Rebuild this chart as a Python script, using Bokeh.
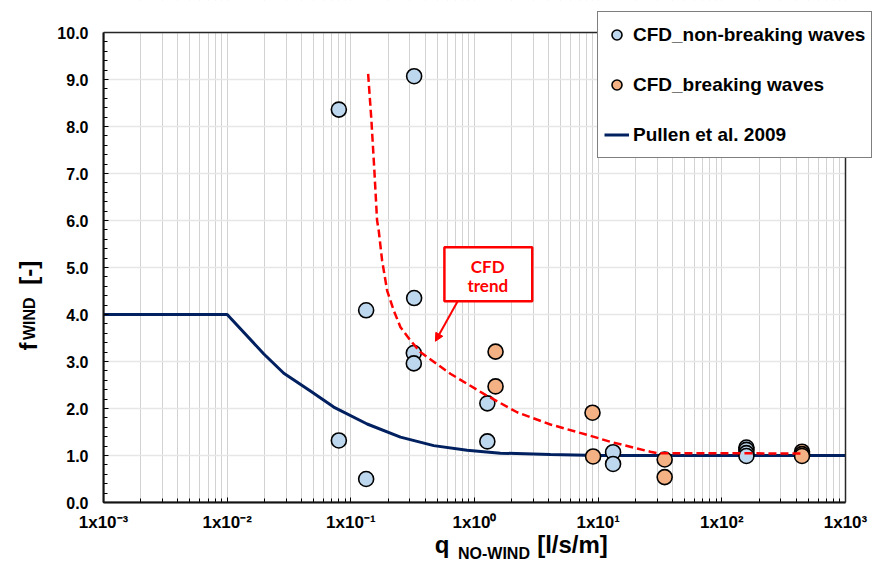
import math

from bokeh.plotting import figure
from bokeh.models import (Range1d, FixedTicker, PrintfTickFormatter, Label, Arrow,
                          NormalHead, BoxAnnotation, Legend, LegendItem, LogAxis, LinearAxis)
from bokeh.embed import file_html
from bokeh.resources import INLINE

# --- data -------------------------------------------------------------
# CFD results, non-breaking waves: overtopping without wind q [l/s/m] and wind factor f [-]
nb_q = [0.080, 0.325, 0.325, 0.133, 0.323, 0.323, 1.27, 0.080, 1.27, 0.133,
        13.2, 13.2, 158, 158, 158, 158]
nb_f = [8.36, 9.07, 4.35, 4.09, 3.18, 2.96, 2.11, 1.32, 1.30, 0.50,
        1.07, 0.82, 1.17, 1.12, 1.05, 0.99]

# CFD results, breaking waves
br_q = [1.48, 1.48, 9.0, 9.1, 34.5, 34.5, 445, 445, 445]
br_f = [3.21, 2.47, 1.91, 0.98, 0.915, 0.54, 1.08, 1.03, 0.99]

# Pullen et al. (2009) wind adjustment factor
pullen_q = [0.001, 0.01, 0.0198, 0.0287, 0.0471, 0.0727, 0.1355, 0.252, 0.468,
            0.871, 1.62, 4.11, 10, 1000]
pullen_f = [4.0, 4.0, 3.16, 2.75, 2.37, 2.03, 1.67, 1.39, 1.21,
            1.11, 1.05, 1.02, 1.0, 1.0]

# CFD trend line
trend_q = [0.138, 0.1467, 0.155, 0.163, 0.168, 0.179, 0.1966, 0.222, 0.252, 0.303,
           0.365, 0.638, 1.19, 2.21, 4.11, 8.65, 12.6, 26.4, 30, 100, 445]
trend_f = [9.12, 8.13, 7.06, 6.0, 5.79, 5.15, 4.51, 4.09, 3.73, 3.45,
           3.20, 2.74, 2.31, 1.92, 1.66, 1.42, 1.29, 1.08, 1.05, 1.05, 1.04]

# axes
Q_MIN, Q_MAX = 1e-3, 1e3
F_MIN, F_MAX = 0.0, 10.0
x_ticks = [1e-3, 1e-2, 1e-1, 1e0, 1e1, 1e2, 1e3]
x_tick_labels = ["1x10⁻³", "1x10⁻²", "1x10⁻¹", "1x10⁰", "1x10¹", "1x10²", "1x10³"]
y_ticks = [0, 1, 2, 3, 4, 5, 6, 7, 8, 9, 10]

# axis titles, split into main text and subscript (anchor = data position along the axis)
x_title_main = {0.546: "q", 6.20: "[l/s/m]"}
x_title_sub = {1.437: "NO-WIND"}
y_title_main = {3.32: "f", 4.89: "[-]"}
y_title_sub = {3.91: "WIND"}

FONT = "Liberation Sans"
BLUE = "#BDD7EE"
ORANGE = "#F4B183"
NAVY = "#002060"
RED = "#FF0000"

# geometry of the plotting box on the 873 x 574 canvas
W, H = 873, 574
BOX_L, BOX_R, BOX_T, BOX_B = 103, 845, 32, 502
# the frame runs to the right and top canvas edges so the legend can overhang the box
x_end = 10 ** (math.log10(Q_MAX) + (W - BOX_R) * 6 / (BOX_R - BOX_L))
y_end = F_MAX * BOX_B / (BOX_B - BOX_T)

p = figure(x_axis_type="log", x_range=Range1d(Q_MIN, x_end), y_range=Range1d(F_MIN, y_end),
           width=W, height=H, output_backend="svg", toolbar_location=None,
           min_border_left=BOX_L, min_border_right=0, min_border_top=0,
           min_border_bottom=H - BOX_B)
p.background_fill_color = "white"
p.border_fill_color = "white"
p.outline_line_color = None

# ticks
x_minor = [m * d for d in x_ticks[:-1] for m in range(2, 10)]
y_minor = [round(i * 0.2, 1) for i in range(51) if i % 5 != 0]
xt = FixedTicker(ticks=x_ticks, minor_ticks=x_minor)
yt = FixedTicker(ticks=y_ticks, minor_ticks=y_minor)
p.xaxis.ticker = xt
p.yaxis.ticker = yt
p.xgrid.ticker = xt
p.ygrid.ticker = FixedTicker(ticks=y_ticks)
p.xaxis.major_label_overrides = dict(zip(x_ticks, x_tick_labels))
p.yaxis.formatter = PrintfTickFormatter(format="%.1f")
p.xaxis.bounds = (Q_MIN, Q_MAX)
p.yaxis.bounds = (F_MIN, F_MAX)

for ax in (p.xaxis[0], p.yaxis[0]):
    ax.axis_line_color = "black"
    ax.axis_line_width = 2
    ax.major_tick_in = 5
    ax.major_tick_out = 0
    ax.minor_tick_in = 4
    ax.minor_tick_out = 0
    ax.major_tick_line_color = "black"
    ax.minor_tick_line_color = "black"
    ax.major_label_text_font = FONT
    ax.major_label_text_font_style = "bold"
    ax.major_label_text_color = "black"
p.xaxis.major_label_text_font_size = "17px"
p.yaxis.major_label_text_font_size = "16px"
p.xaxis.major_label_standoff = 10
p.yaxis.major_label_standoff = 15

p.xgrid.grid_line_color = "#D2D2D2"
p.xgrid.minor_grid_line_color = "#D2D2D2"
p.ygrid.grid_line_color = "#E6E6E6"
p.ygrid.grid_line_width = 1.5


# axis titles drawn as label-only axes stacked outside the main axes
def title_axis(cls, side, parts, size, standoff, orientation="horizontal"):
    ax = cls(ticker=FixedTicker(ticks=list(parts), minor_ticks=[]),
             major_label_overrides=dict(parts),
             axis_line_color=None, major_tick_line_color=None, minor_tick_line_color=None,
             major_tick_in=0, major_tick_out=0, minor_tick_in=0, minor_tick_out=0,
             major_label_standoff=standoff, major_label_orientation=orientation,
             major_label_text_font=FONT, major_label_text_font_style="bold",
             major_label_text_font_size=size, major_label_text_color="black")
    p.add_layout(ax, side)


title_axis(LogAxis, "below", x_title_main, "24px", -4)
title_axis(LogAxis, "below", x_title_sub, "16px", -16)
title_axis(LinearAxis, "left", y_title_main, "24px", 12, "vertical")
title_axis(LinearAxis, "left", y_title_sub, "16px", -26, "vertical")

# series
pullen_r = p.line(pullen_q, pullen_f, line_color=NAVY, line_width=3)
nb_r = p.scatter(nb_q, nb_f, size=15, fill_color=BLUE, line_color="black", line_width=1.6)
br_r = p.scatter(br_q, br_f, size=15, fill_color=ORANGE, line_color="black", line_width=1.6)
p.line(trend_q, trend_f, line_color=RED, line_width=2.5, line_dash="8 4")

# blank out grid lines beyond the plotting box, then draw its border
p.add_layout(BoxAnnotation(bottom=F_MAX, fill_color="white", fill_alpha=1.0, line_alpha=0))
p.add_layout(BoxAnnotation(left=Q_MAX, fill_color="white", fill_alpha=1.0, line_alpha=0))
p.add_layout(BoxAnnotation(left=Q_MIN, right=Q_MAX, bottom=F_MIN, top=F_MAX,
                           fill_alpha=0, line_color="#262626", line_alpha=1.0, line_width=1.5))

# "CFD trend" call-out
p.add_layout(BoxAnnotation(left=0.571, right=2.93, bottom=4.28, top=5.43,
                           fill_color="white", fill_alpha=1.0,
                           line_color=RED, line_alpha=1.0, line_width=2.5))
for txt, yy in (("CFD", 5.03), ("trend", 4.62)):
    p.add_layout(Label(x=1.28, y=yy, text=txt, text_align="center", text_baseline="middle",
                       text_font="Lato", text_font_style="bold", text_font_size="17px",
                       text_color=RED))
p.add_layout(Arrow(x_start=0.731, y_start=4.28, x_end=0.483, y_end=3.43,
                   line_color=RED, line_width=2,
                   end=NormalHead(size=8, fill_color=RED, line_color=RED, line_width=1)))

legend = Legend(items=[LegendItem(label="CFD_non-breaking waves", renderers=[nb_r]),
                       LegendItem(label="CFD_breaking waves", renderers=[br_r]),
                       LegendItem(label="Pullen et al. 2009", renderers=[pullen_r])],
                location=(494, 344), margin=0, padding=6, spacing=17,
                glyph_width=25, glyph_height=33, label_height=33, label_standoff=4,
                label_text_font=FONT, label_text_font_style="bold",
                label_text_font_size="19px", label_text_color="black",
                border_line_color="black", border_line_width=1,
                background_fill_color="white", background_fill_alpha=1.0)
p.add_layout(legend)

open("out.html", "w").write(file_html(p, INLINE))
